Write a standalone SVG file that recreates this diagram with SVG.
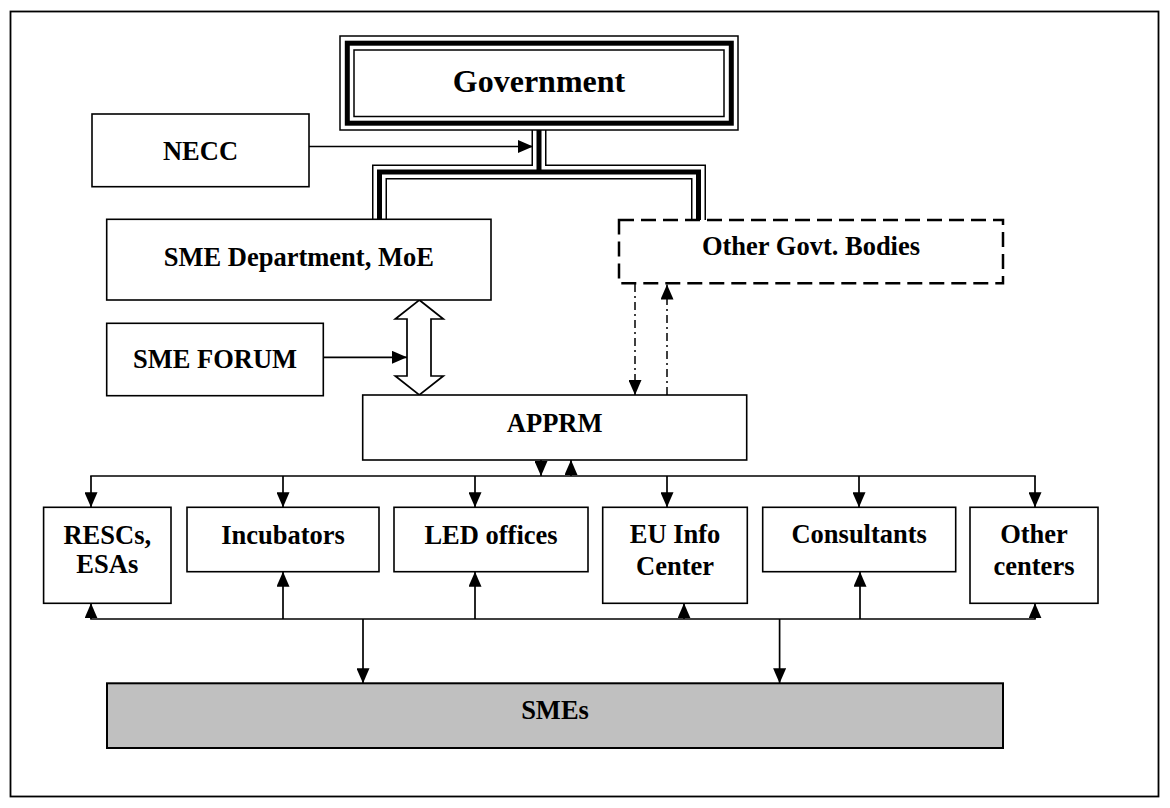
<svg xmlns="http://www.w3.org/2000/svg" width="1170" height="808" viewBox="0 0 1170 808">
<style>
.box{fill:#fff;stroke:#000;stroke-width:1.6}
.t{font-family:"Liberation Serif","Times New Roman",serif;font-weight:bold;font-size:26.5px;text-anchor:middle;fill:#000}
.ln{fill:none;stroke:#000;stroke-width:1.7}
.dd{stroke-dasharray:8 4 2 4;stroke-width:1.5}
</style>
<defs>
<marker id="ah" markerUnits="userSpaceOnUse" markerWidth="15" markerHeight="13" viewBox="0 0 15 13" refX="15" refY="6.5" orient="auto"><path d="M0,0 L15,6.5 L0,13 z" fill="#000"/></marker>
</defs>
<rect x="0" y="0" width="1170" height="808" fill="#fff"/>
<rect x="10.5" y="11.5" width="1148" height="785" fill="none" stroke="#000" stroke-width="1.8"/>

<g id="connectors">
  <g fill="none" stroke-linejoin="miter">
    <path d="M539,129 V172 H379.5 V219.5 M539,172 H698.5 V220" stroke="#000" stroke-width="15"/>
    <path d="M539,129 V172 H379.5 V219.5 M539,172 H698.5 V220" stroke="#fff" stroke-width="12"/>
    <path d="M539,129 V172 H379.5 V219.5 M539,172 H698.5 V220" stroke="#000" stroke-width="5"/>
  </g>
  <line class="ln" x1="309" y1="146.5" x2="533" y2="146.5" marker-end="url(#ah)"/>
  <line class="ln" x1="323.3" y1="357.3" x2="407" y2="357.3" marker-end="url(#ah)"/>
  <polygon points="419.3,300 443.3,319 431,319 431,376 443.3,376 419.3,395 395.3,376 407,376 407,319 395.3,319" fill="#fff" stroke="#000" stroke-width="1.7" stroke-linejoin="miter"/>
  <line class="ln dd" x1="635" y1="284" x2="635" y2="395" marker-end="url(#ah)"/>
  <line class="ln dd" x1="667" y1="395" x2="667" y2="284.5" marker-end="url(#ah)"/>
  <line class="ln" x1="541" y1="460" x2="541" y2="476" marker-end="url(#ah)"/>
  <line class="ln" x1="571" y1="476" x2="571" y2="460" marker-end="url(#ah)"/>
  <line class="ln" x1="90.2" y1="476" x2="1035.8" y2="476"/>
  <line class="ln" x1="91" y1="476" x2="91" y2="507.3" marker-end="url(#ah)"/>
  <line class="ln" x1="283" y1="476" x2="283" y2="507.3" marker-end="url(#ah)"/>
  <line class="ln" x1="475" y1="476" x2="475" y2="507.3" marker-end="url(#ah)"/>
  <line class="ln" x1="667" y1="476" x2="667" y2="507.3" marker-end="url(#ah)"/>
  <line class="ln" x1="859" y1="476" x2="859" y2="507.3" marker-end="url(#ah)"/>
  <line class="ln" x1="1035" y1="476" x2="1035" y2="507.3" marker-end="url(#ah)"/>
  <line class="ln" x1="90.2" y1="619" x2="1035.8" y2="619"/>
  <line class="ln" x1="91" y1="619" x2="91" y2="603.3" marker-end="url(#ah)"/>
  <line class="ln" x1="283" y1="619" x2="283" y2="571.7" marker-end="url(#ah)"/>
  <line class="ln" x1="475" y1="619" x2="475" y2="571.7" marker-end="url(#ah)"/>
  <line class="ln" x1="684" y1="619" x2="684" y2="603.3" marker-end="url(#ah)"/>
  <line class="ln" x1="860" y1="619" x2="860" y2="571.7" marker-end="url(#ah)"/>
  <line class="ln" x1="1035" y1="619" x2="1035" y2="603.3" marker-end="url(#ah)"/>
  <line class="ln" x1="363" y1="619" x2="363" y2="683.3" marker-end="url(#ah)"/>
  <line class="ln" x1="779.6" y1="619" x2="779.6" y2="683.3" marker-end="url(#ah)"/>
</g>

<g id="government">
  <rect x="340" y="36" width="398" height="94" fill="#fff" stroke="#000" stroke-width="1.5"/>
  <rect x="347.3" y="43.2" width="384" height="80" fill="none" stroke="#000" stroke-width="5"/>
  <rect x="354" y="50" width="370" height="66.5" fill="none" stroke="#000" stroke-width="1.5"/>
  <text class="t" x="539" y="92" style="font-size:32px">Government</text>
</g>
<g id="necc">
  <rect class="box" x="92" y="114" width="217" height="72.7"/>
  <text class="t" x="200.5" y="160">NECC</text>
</g>
<g id="sme-department">
  <rect class="box" x="106.7" y="219.3" width="384.3" height="80.7"/>
  <text class="t" x="298.8" y="265.7">SME Department, MoE</text>
</g>
<g id="other-govt-bodies">
  <rect x="619" y="220" width="384" height="63.3" fill="#fff" stroke="#000" stroke-width="2.5" stroke-dasharray="15 7"/>
  <text class="t" x="811" y="255">Other Govt. Bodies</text>
</g>
<g id="sme-forum">
  <rect class="box" x="106.7" y="323.3" width="216.6" height="72.4"/>
  <text class="t" x="215" y="368.3">SME FORUM</text>
</g>
<g id="apprm">
  <rect class="box" x="362.7" y="395" width="384" height="65"/>
  <text class="t" x="554.7" y="431.7">APPRM</text>
</g>
<g id="rescs">
  <rect class="box" x="43.6" y="507.3" width="127.4" height="96"/>
  <text class="t" x="107.3" y="544">RESCs,</text>
  <text class="t" x="107.3" y="573.3">ESAs</text>
</g>
<g id="incubators">
  <rect class="box" x="187" y="507.3" width="192" height="64.4"/>
  <text class="t" x="283" y="544">Incubators</text>
</g>
<g id="led-offices">
  <rect class="box" x="394" y="507.3" width="194" height="64.4"/>
  <text class="t" x="491" y="544">LED offices</text>
</g>
<g id="eu-info-center">
  <rect class="box" x="602.7" y="507.3" width="144.6" height="96"/>
  <text class="t" x="675" y="543.3">EU Info</text>
  <text class="t" x="675" y="575">Center</text>
</g>
<g id="consultants">
  <rect class="box" x="762.7" y="507.3" width="193" height="64.4"/>
  <text class="t" x="859.2" y="543.3">Consultants</text>
</g>
<g id="other-centers">
  <rect class="box" x="970" y="507.3" width="128" height="96"/>
  <text class="t" x="1034" y="543.3">Other</text>
  <text class="t" x="1034" y="575">centers</text>
</g>
<g id="smes">
  <rect x="107" y="683.3" width="896" height="64.7" fill="#c0c0c0" stroke="#000" stroke-width="2"/>
  <text class="t" x="555" y="719.3">SMEs</text>
</g>
</svg>
